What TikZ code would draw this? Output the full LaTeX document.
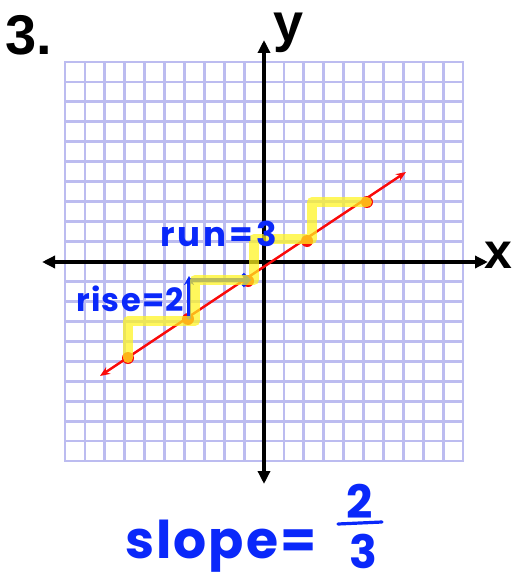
\documentclass[tikz,border=0pt]{standalone}
\usepackage{fontspec}
\setmainfont{Liberation Sans}
\newfontfamily\hand{Poppins}[LetterSpace=9]
\newfontfamily\handwide{Poppins}[LetterSpace=4]
\usetikzlibrary{arrows.meta}
\definecolor{gridc}{RGB}{188,188,240}
\definecolor{hblue}{RGB}{10,40,250}
\definecolor{hyel}{RGB}{255,245,30}
\definecolor{lred}{RGB}{250,10,10}
\tikzset{
  gridline/.style={gridc, line width=2.8pt, line cap=rect},
  axis/.style={line width=3.4pt, black, {Triangle[length=13pt,width=12pt]}-{Triangle[length=13pt,width=12pt]}},
  redline/.style={line width=2.4pt, lred, {Stealth[length=10pt,width=8pt]}-{Stealth[length=10pt,width=8pt]}},
  dot/.style={circle, fill=lred, minimum size=12pt, inner sep=0pt},
  hilite/.style={hyel, opacity=0.72, line width=10pt, line cap=round, line join=round},
  barrow/.style={hblue, line width=3.2pt, line cap=round},
  hand/.style={text=hblue, inner sep=0pt},
  lbl/.style={text=black, inner sep=0pt}
}
\begin{document}
\begin{tikzpicture}[x=1pt,y=-1pt]
\useasboundingbox (0,0) rectangle (512,580);
\fill[white] (0,0) rectangle (512,580);
% grid
\foreach \i in {0,...,20} {
  \draw[gridline] ({65+19.9*\i},62) -- ({65+19.9*\i},461);
  \draw[gridline] (65,{62+19.95*\i}) -- (463,{62+19.95*\i});
}
% axes
\coordinate (xl) at (42,262);
\coordinate (xr) at (488,262);
\coordinate (yt) at (264,40);
\coordinate (yb) at (264,484);
\draw[axis] (xl) -- (xr);
\draw[axis] (yb) -- (yt);
% red line
\coordinate (rl) at (100,376);
\coordinate (ru) at (406,172);
\draw[redline] (rl) -- (ru);
\node[dot] (p0) at (128,358) {};
\node[dot] (p1) at (188,319) {};
\node[dot] (p2) at (248,281) {};
\node[dot] (p3) at (307,241) {};
\node[dot] (p4) at (367,202) {};
% blue arrows
\coordinate (run0) at (190,280);
\coordinate (run1) at (251,280);
\draw[barrow, -{Straight Barb[length=6pt,width=12pt]}] (run0) -- (run1);
\coordinate (rise0) at (189,318);
\coordinate (rise1) at (189,276);
\draw[barrow, -{Stealth[length=9pt,width=10pt]}] (rise0) -- (rise1);
% highlighter staircase
\coordinate (s1) at (128,321);
\coordinate (s2) at (195,321);
\coordinate (s3) at (195,280);
\coordinate (s4) at (254,280);
\coordinate (s5) at (254,239);
\coordinate (s6) at (312,239);
\coordinate (s7) at (312,202);
\draw[hilite] (p0.center) -- (s1) -- (s2) -- (s3) -- (s4) -- (s5) -- (s6) -- (s7) -- (p4.center);
% labels
\node[lbl, anchor=base west, font=\fontsize{56}{60}\selectfont\bfseries] (num) at (5,55) {3.};
\node[lbl, anchor=base west, font=\fontsize{54}{60}\selectfont\bfseries] (ylab) at (273,42) {y};
\node[lbl, anchor=base west, font=\fontsize{50}{60}\selectfont\bfseries] (xlab) at (484,268) {x};
\node[hand, anchor=base west, font=\hand\bfseries\fontsize{34}{40}\selectfont] (runlab) at (160,246) {run=3};
\node[hand, anchor=base west, font=\handwide\bfseries\fontsize{32}{40}\selectfont] (riselab) at (76,311) {rise=2};
\node[hand, anchor=base west, font=\handwide\bfseries\fontsize{52}{60}\selectfont] (slopelab) at (125,558) {slope=};
\node[hand, anchor=base, font=\hand\bfseries\fontsize{46}{50}\selectfont] (num2) at (360,518) {2};
\node[hand, anchor=base, text depth=0pt, font=\hand\bfseries\fontsize{46}{50}\selectfont] (den3) at (363,568) {3};
\coordinate (bar0) at (338,524);
\coordinate (bar1) at (382,522);
\draw[barrow] (bar0) -- (bar1);
\end{tikzpicture}
\end{document}
